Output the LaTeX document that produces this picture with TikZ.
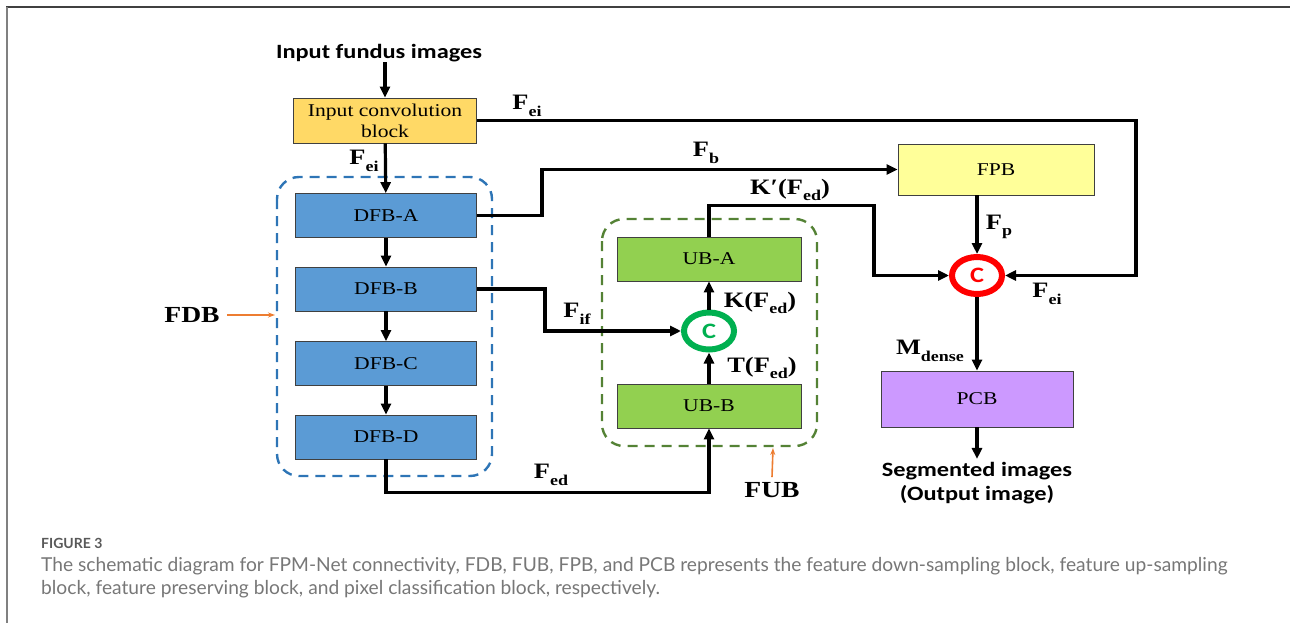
\documentclass[tikz,border=0pt]{standalone}
\usepackage{fontspec}
\setmainfont{Liberation Serif}[FakeStretch=1.2]
\newfontfamily\headfont{Carlito}[FakeStretch=1.2]
\newfontfamily\capfont{Lato}
\usetikzlibrary{positioning,arrows.meta,shapes.geometric}

\definecolor{convorange}{HTML}{FFD966}
\definecolor{dfbblue}{HTML}{5B9BD5}
\definecolor{ubgreen}{HTML}{92D050}
\definecolor{fpbyellow}{HTML}{FFFF99}
\definecolor{pcbpurple}{HTML}{CC99FF}
\definecolor{fdbline}{HTML}{2E75B6}
\definecolor{fubline}{HTML}{548235}
\definecolor{tagorange}{HTML}{ED7D31}
\definecolor{catred}{HTML}{FF0000}
\definecolor{catgreen}{HTML}{00B050}
\definecolor{capgray}{HTML}{777777}

% signal name with lowered subscript
\newcommand{\sg}[2]{#1\raisebox{-0.3em}{\fontsize{15}{15}\selectfont #2}}

\tikzset{
  blk/.style={draw=black!75,line width=0.8pt,minimum height=44pt,inner sep=0pt,
    font=\fontsize{18}{21}\selectfont},
  dfb/.style={blk,fill=dfbblue,minimum width=181pt},
  ub/.style={blk,fill=ubgreen,minimum width=184pt},
  cat/.style={ellipse,fill=white,line width=6pt,minimum width=50pt,minimum height=37pt,
    inner sep=0pt,font=\headfont\bfseries\fontsize{22}{22}\selectfont},
  wire/.style={line width=3.2pt},
  flow/.style={wire,-{Triangle[length=11pt,width=10pt]}},
  sig/.style={inner sep=0pt,font=\fontsize{22}{24}\selectfont\bfseries},
  group/.style={line width=2.4pt,dash pattern=on 10pt off 7pt,rounded corners=22pt},
  tag/.style={inner sep=0pt,font=\fontsize{23}{23}\selectfont\bfseries},
  pointer/.style={draw=tagorange,line width=1.6pt,-{Stealth[length=7pt,width=5pt]}}
}

\begin{document}
\begin{tikzpicture}[x=1pt,y=-1pt]
\useasboundingbox (0,0) rectangle (1290,623);

% page frame
\draw[black!75,line width=2pt] (6,7) -- (1290,7);
\draw[black!50,line width=2pt] (7,7) -- (7,623);

% input side
\node[inner sep=0pt,font=\headfont\bfseries\fontsize{20.3}{20}\selectfont] (inimg) at (379,53) {Input fundus images};
\node[blk,fill=convorange,minimum width=183pt,minimum height=45pt,align=center] (inconv) at (385,120.5) {Input convolution\\block};

% feature down-sampling blocks
\draw[group,draw=fdbline] (277,177) rectangle (492,476);
\node[dfb] (dfba) at (386,215.5) {DFB-A};
\node[dfb] (dfbb) at (386,289) {DFB-B};
\node[dfb] (dfbc) at (386,363.5) {DFB-C};
\node[dfb] (dfbd) at (386,437) {DFB-D};
\node[tag] (fdbtag) at (192,315) {FDB};
\draw[pointer] ([xshift=7pt]fdbtag.east) -- (275,315);

% feature up-sampling blocks
\draw[group,draw=fubline] (602,219) rectangle (817,446);
\node[ub] (uba) at (709,259) {UB-A};
\node[ub] (ubb) at (709,406) {UB-B};
\node[cat,draw=catgreen,text=catgreen] (cg) at (709,331) {C};
\node[tag] (fubtag) at (772,490) {FUB};
\draw[pointer] ([yshift=5pt]fubtag.north) -- (773,448);

% preserving and classification
\node[blk,fill=fpbyellow,minimum width=196pt,minimum height=51pt] (fpb) at (996,169.5) {FPB};
\node[cat,draw=catred,text=catred] (cr) at (977,275.5) {C};
\node[blk,fill=pcbpurple,minimum width=192pt,minimum height=56pt] (pcb) at (977,399) {PCB};
\node[align=center,inner sep=0pt,font=\headfont\bfseries\fontsize{20.3}{24}\selectfont] (outimg) at (977,483) {Segmented images\\(Output image)};

% connections
\draw[flow] (inimg.south -| inconv) -- (inconv);
\draw[flow] (inconv) -- (dfba);
\draw[flow] (dfba) -- (dfbb);
\draw[flow] (dfbb) -- (dfbc);
\draw[flow] (dfbc) -- (dfbd);
\draw[flow] (inconv.east) -- ++(659,0) |- (cr.east);
\draw[flow] (dfba.east) -- ++(65,0) |- (fpb.west);
\draw[flow] (dfbb.east) -- ++(68,0) |- (cg.west);
\draw[flow] (dfbd.south) -- ++(0,33) -| (ubb.south);
\draw[flow] (ubb) -- (cg);
\draw[flow] (cg) -- (uba);
\draw[flow] (uba.north) -- ++(0,-31) -- ++(165,0) |- (cr.west);
\draw[flow] (fpb.south -| cr) -- (cr);
\draw[flow] (cr) -- (pcb.north -| cr);
\draw[flow] (pcb) -- ([yshift=3pt]outimg.north);

% signal labels
\node[sig] (feitop) at (527,106) {\sg{F}{ei}};
\node[sig] (feileft) at (364,161) {\sg{F}{ei}};
\node[sig] (fblbl) at (706,153) {\sg{F}{b}};
\node[sig] (kplbl) at (790,190) {K′(\sg{F}{ed})};
\node[sig] (fiflbl) at (577,314) {\sg{F}{if}};
\node[sig] (klbl) at (760,303) {K(\sg{F}{ed})};
\node[sig] (tlbl) at (762,368) {T(\sg{F}{ed})};
\node[sig] (fedlbl) at (551,475) {\sg{F}{ed}};
\node[sig] (fplbl) at (999,227) {\sg{F}{p}};
\node[sig] (feiright) at (1047,294) {\sg{F}{ei}};
\node[sig] (mlbl) at (930,351) {\sg{M}{dense}};

% caption
\node[anchor=west,inner sep=0pt,text=black!65,font=\capfont\bfseries\fontsize{14}{14}\selectfont] (fignum) at (41,543) {FIGURE 3};
\node[anchor=north west,align=left,inner sep=0pt,text=capgray,font=\capfont\fontsize{19.2}{23}\selectfont] (captxt) at (41,557) {The schematic diagram for FPM-Net connectivity, FDB, FUB, FPB, and PCB represents the feature down-sampling block, feature up-sampling\\block, feature preserving block, and pixel classification block, respectively.};
\end{tikzpicture}
\end{document}
